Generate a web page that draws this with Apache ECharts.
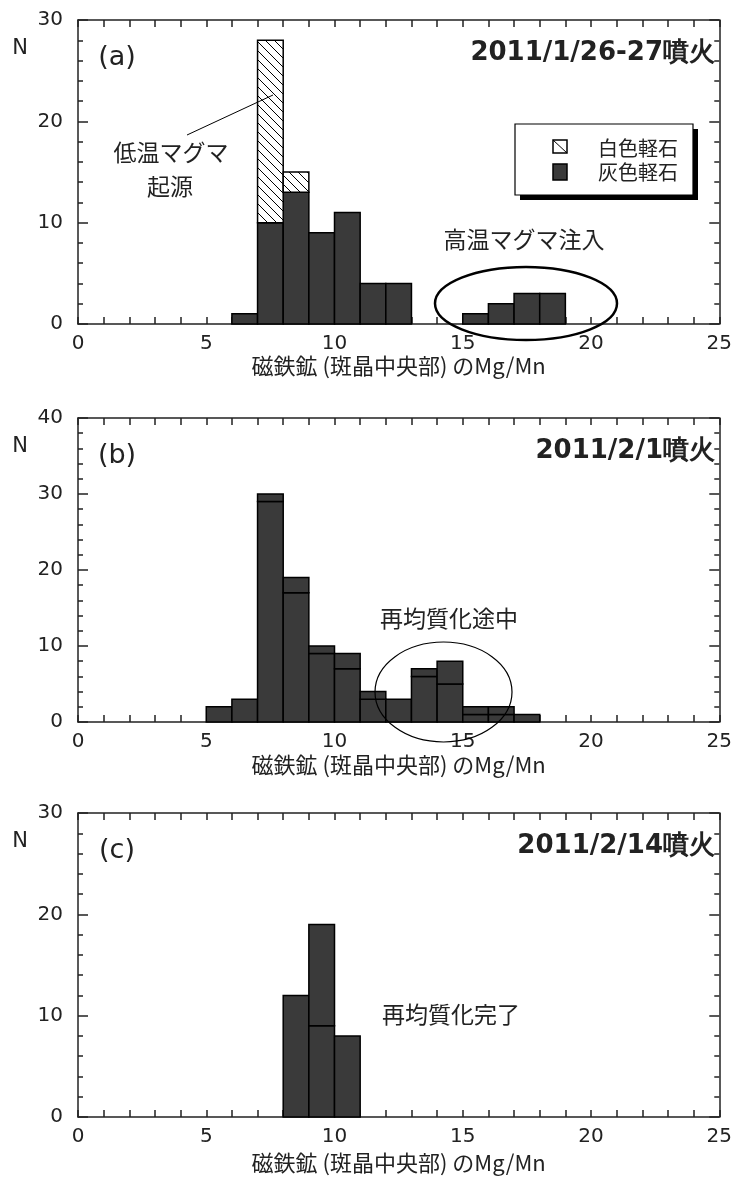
<!DOCTYPE html>
<html><head><meta charset="utf-8">
<script src="https://cdn.jsdelivr.net/npm/echarts@6/dist/echarts.min.js"></script>
<style>html,body{margin:0;padding:0;background:#fff}#c{width:735px;height:1182px}</style>
</head><body><div id="c"></div>
<script>
// ---- data ----
const binsA  = [6, 7, 8, 9, 10, 11, 12, 15, 16, 17, 18];
const grayA  = [1, 10, 13, 9, 11, 4, 4, 1, 2, 3, 3];
const whiteA = [0, 18, 2, 0, 0, 0, 0, 0, 0, 0, 0];

const binsB  = [5, 6, 7, 8, 9, 10, 11, 12, 13, 14, 15, 16, 17];
const lowerB = [2, 3, 29, 17, 9, 7, 3, 3, 6, 5, 1, 1, 1];
const upperB = [0, 0, 1, 2, 1, 2, 1, 0, 1, 3, 1, 1, 0];

const binsC  = [8, 9, 10];
const lowerC = [12, 9, 8];
const upperC = [0, 10, 0];

const yMax = [30, 40, 30];
const panelLabels = ['(a)', '(b)', '(c)'];
const panelTitles = ['2011/1/26-27噴火', '2011/2/1噴火', '2011/2/14噴火'];
const xName = '磁鉄鉱 (斑晶中央部) のMg/Mn';
const legendNames = ['白色軽石', '灰色軽石'];

// ---- layout ----
const tops = [20, 418, 813];
const H = 304, L = 78, W = 642;
const nameGaps = [29, 32, 35];
const TXT = '#222', BAR = '#3a3a3a';
const CJK = 'Noto Sans CJK JP';

function hatchCanvas() {
  const s = 9, c = document.createElement('canvas');
  c.width = s; c.height = s;
  const g = c.getContext('2d');
  g.fillStyle = '#fff'; g.fillRect(0, 0, s, s);
  g.strokeStyle = '#000'; g.lineWidth = 1;
  g.beginPath(); g.moveTo(-2, -2); g.lineTo(s + 2, s + 2); g.stroke();
  return c;
}
const hatch = { image: hatchCanvas(), repeat: 'repeat' };

const grids = [], xAxes = [], yAxes = [], series = [];
const tickStyle = { color: TXT, width: 1.5 };
tops.forEach((t, gi) => {
  grids.push({ left: L, top: t, width: W, height: H });
  const xb = {
    gridIndex: gi, type: 'value', min: 0, max: 25, interval: 5,
    axisLine: { onZero: false, lineStyle: { color: TXT, width: 1.5 } },
    axisTick: { inside: true, length: 7, lineStyle: tickStyle },
    minorTick: { show: true, splitNumber: 5, length: 7, lineStyle: tickStyle },
    splitLine: { show: false }, minorSplitLine: { show: false }
  };
  xAxes.push(Object.assign({}, xb, {
    position: 'bottom',
    axisLabel: { margin: 10, fontSize: 20, color: TXT, fontFamily: 'DejaVu Sans' },
    name: xName, nameLocation: 'middle', nameGap: nameGaps[gi],
    nameTextStyle: { fontSize: 22, color: TXT, fontFamily: CJK }
  }));
  xAxes.push(Object.assign({}, xb, { position: 'top', axisLabel: { show: false } }));
  const yb = {
    gridIndex: gi, type: 'value', min: 0, max: yMax[gi], interval: 10,
    axisLine: { onZero: false, lineStyle: { color: TXT, width: 1.5 } },
    axisTick: { inside: true, length: 10, lineStyle: tickStyle },
    minorTick: { show: true, splitNumber: 5, length: 5, lineStyle: tickStyle },
    splitLine: { show: false }, minorSplitLine: { show: false }
  };
  yAxes.push(Object.assign({}, yb, {
    position: 'left',
    axisLabel: { margin: 15, fontSize: 20, color: TXT, fontFamily: 'DejaVu Sans',
      showMaxLabel: true, showMinLabel: true, padding: [0, 0, 12, 0] }
  }));
  yAxes.push(Object.assign({}, yb, { position: 'right', axisLabel: { show: false } }));
});

function barSeries(gi, name, bins, base, vals, fill) {
  const data = bins.map((b, i) => [b, base[i], vals[i]]).filter(d => d[2] > 0);
  return {
    type: 'custom', name, xAxisIndex: gi * 2, yAxisIndex: gi * 2, data,
    silent: true, animation: false, clip: false,
    encode: { x: 0, y: 1 },
    renderItem(params, api) {
      const x = api.value(0), b = api.value(1), h = api.value(2);
      const p1 = api.coord([x, b + h]), p2 = api.coord([x + 1, b]);
      return { type: 'rect',
        shape: { x: p1[0], y: p1[1], width: p2[0] - p1[0], height: p2[1] - p1[1] },
        style: { fill, stroke: '#000', lineWidth: 1.5 } };
    }
  };
}
const zeros = n => new Array(n).fill(0);
series.push(barSeries(0, legendNames[1], binsA, zeros(binsA.length), grayA, BAR));
series.push(barSeries(0, legendNames[0], binsA, grayA, whiteA, hatch));
series.push(barSeries(1, 'b-lower', binsB, zeros(binsB.length), lowerB, BAR));
series.push(barSeries(1, 'b-upper', binsB, lowerB, upperB, BAR));
series.push(barSeries(2, 'c-lower', binsC, zeros(binsC.length), lowerC, BAR));
series.push(barSeries(2, 'c-upper', binsC, lowerC, upperC, BAR));

// ---- annotations (graphic) ----
const g = [];
tops.forEach((t, gi) => {
  g.push({ type: 'text', x: 20, y: t + 29, style: { text: 'N', fontSize: 21, fill: TXT, fontFamily: 'DejaVu Sans', align: 'center', verticalAlign: 'middle' } });
  g.push({ type: 'text', x: 117, y: t + 38, style: { text: panelLabels[gi], fontSize: 27, fill: TXT, fontFamily: 'DejaVu Sans', align: 'center', verticalAlign: 'middle' } });
  g.push({ type: 'text', x: 715, y: t + 33, style: { text: panelTitles[gi], fontSize: 26, fontWeight: 'bold', fill: TXT, fontFamily: 'DejaVu Sans', align: 'right', verticalAlign: 'middle' } });
});
const ann = (text, x, y) => ({ type: 'text', x, y, z: 10,
  style: { text, fontSize: 23, fill: TXT, fontFamily: CJK, align: 'center', verticalAlign: 'middle' } });
g.push(ann('低温マグマ', 171, 152));
g.push(ann('起源', 170, 186));
g.push({ type: 'line', z: 10, shape: { x1: 187, y1: 135, x2: 273, y2: 95 }, style: { stroke: '#000', lineWidth: 1 } });
g.push(ann('高温マグマ注入', 524, 239));
g.push(ann('再均質化途中', 449, 618));
g.push(ann('再均質化完了', 451, 1014));
g.push({ type: 'ellipse', z: 10, shape: { cx: 526, cy: 303.5, rx: 91, ry: 36.5 }, style: { fill: 'none', stroke: '#000', lineWidth: 2.5 } });
g.push({ type: 'ellipse', z: 10, shape: { cx: 443.5, cy: 692, rx: 68.5, ry: 50 }, style: { fill: 'none', stroke: '#000', lineWidth: 1.2 } });
// legend
g.push({ type: 'rect', z: 10, shape: { x: 520, y: 129, width: 178, height: 71 }, style: { fill: '#000' } });
g.push({ type: 'rect', z: 11, shape: { x: 515, y: 124, width: 178, height: 71 }, style: { fill: '#fff', stroke: '#000', lineWidth: 1.2 } });
g.push({ type: 'rect', z: 12, shape: { x: 553, y: 140, width: 14, height: 13 }, style: { fill: '#fff', stroke: '#000', lineWidth: 1.5 } });
g.push({ type: 'line', z: 12, shape: { x1: 553, y1: 140, x2: 567, y2: 153 }, style: { stroke: '#000', lineWidth: 1 } });
g.push({ type: 'rect', z: 12, shape: { x: 553, y: 164, width: 14, height: 16 }, style: { fill: BAR, stroke: '#000', lineWidth: 1.5 } });
g.push({ type: 'text', z: 12, x: 598, y: 148, style: { text: legendNames[0], fontSize: 20, fill: TXT, fontFamily: CJK, verticalAlign: 'middle' } });
g.push({ type: 'text', z: 12, x: 598, y: 172, style: { text: legendNames[1], fontSize: 20, fill: TXT, fontFamily: CJK, verticalAlign: 'middle' } });

const chart = echarts.init(document.getElementById('c'), null, { renderer: 'canvas' });
chart.setOption({
  animation: false, backgroundColor: '#fff',
  grid: grids, xAxis: xAxes, yAxis: yAxes, series, graphic: g
});
</script></body></html>
